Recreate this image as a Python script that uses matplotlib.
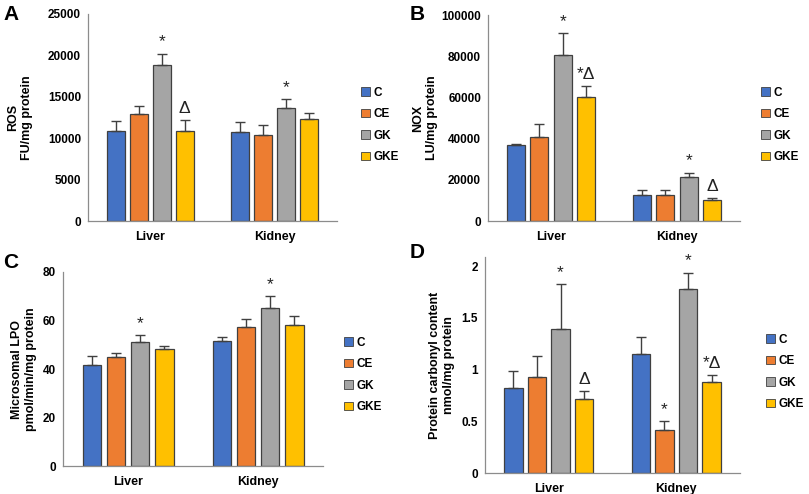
import numpy as np
import matplotlib.pyplot as plt
from matplotlib.patches import Patch

plt.rcParams["font.family"] = ["Liberation Sans", "DejaVu Sans"]

# data
organs = ["Liver", "Kidney"]
groups = ["C", "CE", "GK", "GKE"]
colors = ["#4472C4", "#ED7D31", "#A5A5A5", "#FFC000"]

ros_mean = [[10900, 12950, 18800, 10850], [10800, 10400, 13700, 12300]]
ros_err = [[1200, 950, 1400, 1350], [1200, 1200, 1000, 800]]
ros_marks = [["", "", "*", "Δ"], ["", "", "*", ""]]

nox_mean = [[36700, 40700, 80800, 60100], [12600, 12400, 21300, 10400]]
nox_err = [[800, 6300, 10500, 5200], [2600, 2500, 2200, 900]]
nox_marks = [["", "", "*", "*Δ"], ["", "", "*", "Δ"]]

lpo_mean = [[41.5, 45.0, 51.3, 48.3], [51.5, 57.5, 65.3, 58.0]]
lpo_err = [[4.0, 1.8, 2.7, 1.3], [1.7, 3.3, 4.7, 3.7]]
lpo_marks = [["", "", "*", ""], ["", "", "*", ""]]

pc_mean = [[0.82, 0.925, 1.395, 0.72], [1.15, 0.42, 1.785, 0.88]]
pc_err = [[0.17, 0.205, 0.435, 0.075], [0.17, 0.08, 0.155, 0.07]]
pc_marks = [["", "", "*", "Δ"], ["", "*", "*", "*Δ"]]

W, H = 809, 494
fig = plt.figure(figsize=(W / 100, H / 100), dpi=100)


def px_axes(left, top, right, bottom):
    return fig.add_axes([left / W, 1 - bottom / H, (right - left) / W, (bottom - top) / H])


def panel(ax, mean, err, marks, ymax, yticks, ytl, ylabel, lab_x, leg_xy):
    mean = np.array(mean)
    err = np.array(err)
    x = np.arange(len(organs))
    width = 0.145
    step = 0.185
    for j, g in enumerate(groups):
        xs = x + (j - 1.5) * step
        ax.bar(xs, mean[:, j], width, color=colors[j], edgecolor="#404040", linewidth=0.9, zorder=2)
        ax.errorbar(xs, mean[:, j], yerr=[np.zeros(len(organs)), err[:, j]], fmt="none",
                    ecolor="#404040", elinewidth=1.0, capsize=3.5, capthick=1.0, zorder=3)
        for i in range(len(organs)):
            if marks[i][j]:
                ax.annotate(marks[i][j], (xs[i], mean[i, j] + err[i, j]), xytext=(0, 3),
                            textcoords="offset points", ha="center", va="bottom", fontsize=12.5,
                            color="#222222")
    ax.set_xlim(-0.5, 1.5)
    ax.set_ylim(0, ymax)
    ax.set_yticks(yticks)
    ax.set_yticklabels(ytl, fontweight="bold", fontsize=8.5)
    ax.set_xticks(x)
    ax.set_xticklabels(organs, fontweight="bold", fontsize=9)
    ax.tick_params(axis="y", length=0, pad=5)
    ax.tick_params(axis="x", length=0, pad=7)
    for s in ["top", "right"]:
        ax.spines[s].set_visible(False)
    for s in ["left", "bottom"]:
        ax.spines[s].set_color("#8c8c8c")
        ax.spines[s].set_linewidth(0.9)
    ax.set_ylabel(ylabel, fontweight="bold", fontsize=9, linespacing=1.2)
    ax.yaxis.set_label_coords(lab_x, 0.5)
    handles = [Patch(facecolor=c, edgecolor="#404040", linewidth=0.6) for c in colors]
    fig.legend(handles, groups, loc="center left", bbox_to_anchor=(leg_xy[0] / W, 1 - leg_xy[1] / H),
               frameon=False, prop={"weight": "bold", "size": 8.5}, handlelength=0.75, handleheight=0.75,
               handletextpad=0.3, labelspacing=0.8, borderpad=0, borderaxespad=0)


axA = px_axes(88, 14, 337, 221)
panel(axA, ros_mean, ros_err, ros_marks, 25000, [0, 5000, 10000, 15000, 20000, 25000],
      ["0", "5000", "10000", "15000", "20000", "25000"], "ROS\nFU/mg protein", -0.22, (361, 125))

axB = px_axes(488, 15, 740, 221)
panel(axB, nox_mean, nox_err, nox_marks, 100000, [0, 20000, 40000, 60000, 80000, 100000],
      ["0", "20000", "40000", "60000", "80000", "100000"], "NOX\nLU/mg protein", -0.2, (761, 125))

axC = px_axes(63, 272, 323, 466)
panel(axC, lpo_mean, lpo_err, lpo_marks, 80, [0, 20, 40, 60, 80],
      ["0", "20", "40", "60", "80"], "Microsomal LPO\npmol/min/mg protein", -0.1, (344, 375))

axD = px_axes(485, 257, 740, 473)
panel(axD, pc_mean, pc_err, pc_marks, 2.09, [0, 0.5, 1, 1.5, 2],
      ["0", "0.5", "1", "1.5", "2"], "Protein carbonyl content\nnmol/mg protein", -0.118, (766, 372))

for lab, (lx, ly) in zip("ABCD", [(3, 14), (410, 14), (3, 262), (410, 252)]):
    fig.text(lx / W, 1 - ly / H, lab, fontsize=15, fontweight="bold", va="center", ha="left")

fig.savefig("out.png", dpi=100)
